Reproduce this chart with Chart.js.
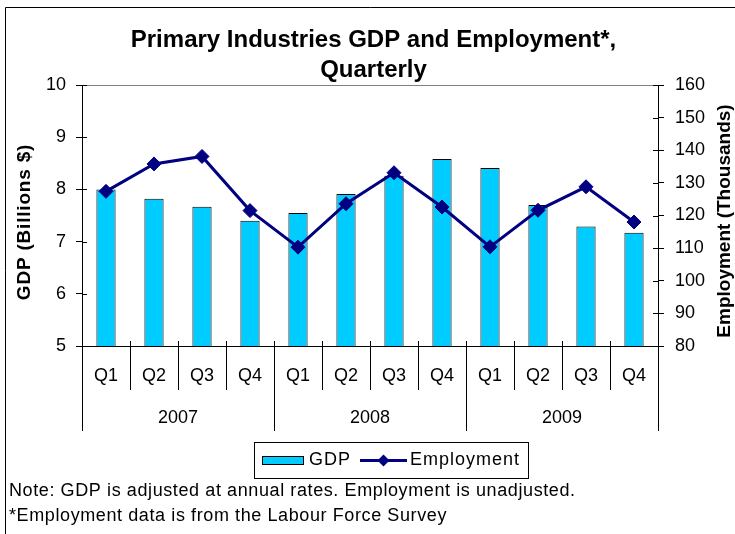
<!DOCTYPE html>
<html>
<head>
<meta charset="utf-8">
<title>Primary Industries GDP and Employment</title>
<script src="https://cdn.jsdelivr.net/npm/chart.js@4/dist/chart.umd.min.js"></script>
<style>
  html, body { margin: 0; padding: 0; background: #fff; }
  canvas { display: block; }
</style>
</head>
<body>
<canvas id="chart" width="735" height="534"></canvas>
<script>
// Quarterly categories, grouped by year
const quarters = ['Q1', 'Q2', 'Q3', 'Q4', 'Q1', 'Q2', 'Q3', 'Q4', 'Q1', 'Q2', 'Q3', 'Q4'];
const years = ['2007', '2008', '2009'];

// GDP, billions of dollars (annual rates)
const gdp = [8.00, 7.82, 7.67, 7.40, 7.55, 7.91, 8.26, 8.58, 8.41, 7.70, 7.29, 7.17];
// Employment, thousands (Labour Force Survey)
const employment = [127.4, 135.8, 138.1, 121.5, 110.3, 123.6, 133.1, 122.6, 110.4, 121.6, 128.8, 118.0];

const titleLines = ['Primary Industries GDP and Employment*,', 'Quarterly'];
const leftTitle = 'GDP (Billions $)';
const rightTitle = 'Employment (Thousands)';
const notes = [
  'Note: GDP is adjusted at annual rates. Employment is unadjusted.',
  '*Employment data is from the Labour Force Survey'
];

const FONT = '"Liberation Sans", Arial, sans-serif';
const BAR_COLOR = '#00CCFF';
const LINE_COLOR = '#000080';

// Draws the frame, tick stubs, year row, axis titles, legend and notes
const decor = {
  id: 'decor',
  afterDraw(chart) {
    const { ctx, chartArea: a, scales: { x, y, y2 } } = chart;
    ctx.save();

    // outer frame (top and left edges)
    ctx.strokeStyle = '#000';
    ctx.lineWidth = 1;
    ctx.beginPath();
    ctx.moveTo(5.5, 534);
    ctx.lineTo(5.5, 7.5);
    ctx.lineTo(735, 7.5);
    ctx.stroke();

    // plot area top edge
    ctx.strokeStyle = '#808080';
    ctx.beginPath();
    ctx.moveTo(a.left, a.top + 0.5);
    ctx.lineTo(a.right, a.top + 0.5);
    ctx.stroke();

    // tick stubs reaching into the plot area
    ctx.strokeStyle = '#000';
    ctx.beginPath();
    y.ticks.forEach(t => {
      const py = Math.round(y.getPixelForValue(t.value)) + 0.5;
      ctx.moveTo(a.left, py); ctx.lineTo(a.left + 5, py);
    });
    y2.ticks.forEach(t => {
      const py = Math.round(y2.getPixelForValue(t.value)) + 0.5;
      ctx.moveTo(a.right - 5, py); ctx.lineTo(a.right, py);
    });
    const half = (x.getPixelForValue(1) - x.getPixelForValue(0)) / 2;
    const edge = i => i < quarters.length ? x.getPixelForValue(i) - half
                                           : x.getPixelForValue(quarters.length - 1) + half;
    for (let i = 0; i <= quarters.length; i++) {
      const px = Math.round(edge(i)) + 0.5;
      ctx.moveTo(px, a.bottom - 5); ctx.lineTo(px, a.bottom);
      if (i % 4 === 0) { ctx.moveTo(px, a.bottom + 44); ctx.lineTo(px, a.bottom + 85); }
    }
    ctx.stroke();

    // year row
    ctx.fillStyle = '#000';
    ctx.font = '18px ' + FONT;
    ctx.textAlign = 'center';
    ctx.textBaseline = 'middle';
    years.forEach((yr, k) => {
      const cx = (edge(k * 4) + edge(k * 4 + 4)) / 2;
      ctx.fillText(yr, cx, a.bottom + 72);
    });

    // axis titles, both reading bottom to top
    ctx.font = 'bold 19px ' + FONT;
    ctx.textBaseline = 'alphabetic';
    ctx.save();
    ctx.translate(30, 222);
    ctx.rotate(-Math.PI / 2);
    ctx.letterSpacing = '0.8px';
    ctx.fillText(leftTitle, 0, 0);
    ctx.restore();
    ctx.save();
    ctx.translate(730, 221);
    ctx.rotate(-Math.PI / 2);
    ctx.fillText(rightTitle, 0, 0);
    ctx.restore();

    // legend
    const barSet = chart.data.datasets.find(d => d.type === 'bar');
    const lineSet = chart.data.datasets.find(d => d.type === 'line');
    ctx.lineWidth = 1;
    ctx.strokeStyle = '#000';
    ctx.fillStyle = '#fff';
    ctx.fillRect(254.5, 442.5, 274, 36);
    ctx.strokeRect(254.5, 442.5, 274, 36);
    const ly = 460.5;
    ctx.fillStyle = barSet.backgroundColor;
    ctx.fillRect(262.5, 456.5, 41, 8);
    ctx.strokeRect(262.5, 456.5, 41, 8);
    ctx.fillStyle = '#000';
    ctx.font = '18px ' + FONT;
    ctx.letterSpacing = '1px';
    ctx.textAlign = 'left';
    ctx.textBaseline = 'middle';
    ctx.fillText(barSet.label, 309, ly);
    ctx.strokeStyle = lineSet.borderColor;
    ctx.lineWidth = 3;
    ctx.beginPath();
    ctx.moveTo(360, ly); ctx.lineTo(407, ly);
    ctx.stroke();
    ctx.fillStyle = lineSet.pointBackgroundColor;
    ctx.beginPath();
    ctx.moveTo(383.5 - 6, ly); ctx.lineTo(383.5, ly - 6);
    ctx.lineTo(383.5 + 6, ly); ctx.lineTo(383.5, ly + 6);
    ctx.closePath();
    ctx.fill();
    ctx.fillStyle = '#000';
    ctx.fillText(lineSet.label, 410, ly);

    // notes
    ctx.font = '18px ' + FONT;
    ctx.letterSpacing = '0.6px';
    ctx.fillText(notes[0], 9, 491);
    ctx.fillText(notes[1], 9, 516);

    ctx.restore();
  }
};

new Chart(document.getElementById('chart'), {
  data: {
    labels: quarters,
    datasets: [
      {
        type: 'line',
        label: 'Employment',
        data: employment,
        yAxisID: 'y2',
        order: 1,
        borderColor: LINE_COLOR,
        borderWidth: 3,
        tension: 0,
        pointStyle: 'rectRot',
        pointRadius: 7,
        pointBorderWidth: 1,
        pointBackgroundColor: LINE_COLOR,
        pointBorderColor: LINE_COLOR
      },
      {
        type: 'bar',
        label: 'GDP',
        data: gdp,
        yAxisID: 'y',
        order: 2,
        backgroundColor: BAR_COLOR,
        borderColor: '#000',
        borderWidth: 1,
        borderSkipped: false,
        categoryPercentage: 1,
        barPercentage: 0.4
      }
    ]
  },
  options: {
    responsive: false,
    animation: false,
    devicePixelRatio: 1,
    layout: { padding: { left: 12, right: 0, top: 0, bottom: 0 } },
    plugins: {
      legend: { display: false },
      tooltip: { enabled: false },
      title: {
        display: true,
        text: titleLines,
        color: '#000',
        font: { family: FONT, size: 24, weight: 'bold', lineHeight: 1.25 },
        padding: { top: 25, bottom: 0 }
      }
    },
    scales: {
      x: {
        type: 'category',
        offset: true,
        grid: { display: true, offset: true, drawOnChartArea: false, drawTicks: true, tickLength: 44, color: '#000' },
        border: { display: true, color: '#000' },
        ticks: { color: '#000', font: { family: FONT, size: 18 }, padding: -25, maxRotation: 0, autoSkip: false },
        afterFit(s) { s.height = 188; }
      },
      y: {
        type: 'linear',
        position: 'left',
        min: 5, max: 10,
        ticks: { stepSize: 1, color: '#000', font: { family: FONT, size: 18 }, padding: 10 },
        grid: { drawOnChartArea: false, drawTicks: true, tickLength: 6, color: '#000' },
        border: { display: true, color: '#000' },
        afterFit(s) { s.width = 70; }
      },
      y2: {
        type: 'linear',
        position: 'right',
        min: 80, max: 160,
        ticks: { stepSize: 10, color: '#000', font: { family: FONT, size: 18 }, padding: 11 },
        grid: { drawOnChartArea: false, drawTicks: true, tickLength: 6, color: '#000' },
        border: { display: true, color: '#000' },
        afterFit(s) { s.width = 77; }
      }
    }
  },
  plugins: [decor]
});
</script>
</body>
</html>
